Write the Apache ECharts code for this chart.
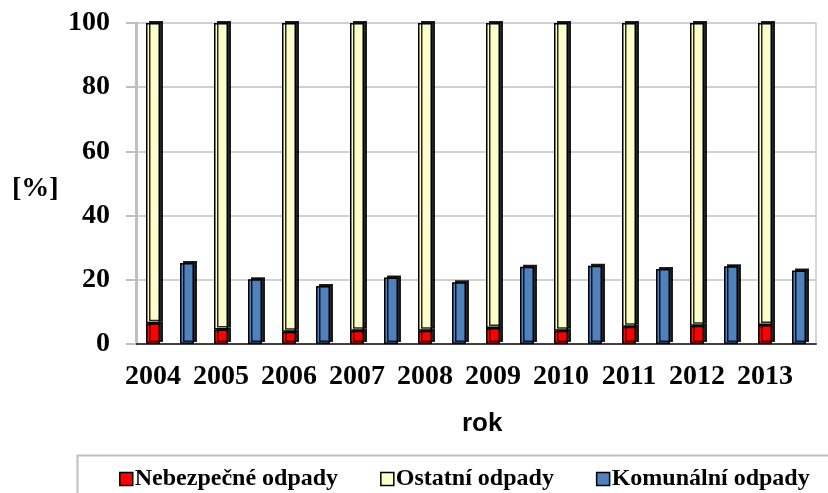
<!DOCTYPE html>
<html>
<head>
<meta charset="utf-8">
<script src="https://cdn.jsdelivr.net/npm/echarts@6/dist/echarts.min.js"></script>
<style>
  html, body { margin: 0; padding: 0; background: #fff; }
  #main { width: 828px; height: 493px; }
</style>
</head>
<body>
<div id="main"></div>
<script>
// hodnoty
const years = ['2004', '2005', '2006', '2007', '2008', '2009', '2010', '2011', '2012', '2013']
const nebezpecne = [6.5, 4.5, 3.8, 4.1, 4.1, 5.0, 4.1, 5.4, 5.7, 5.9]
const ostatni = [93.5, 95.5, 96.2, 95.9, 95.9, 95.0, 95.9, 94.6, 94.3, 94.1]
const komunalni = [25.2, 20.2, 18.1, 20.7, 19.2, 24.1, 24.4, 23.4, 24.2, 22.9]
const yTicks = [0, 20, 40, 60, 80, 100]

const serif = '"Liberation Serif", "Times New Roman", serif'

// kazdy rok = dva sloty: sloupec nebezpecne+ostatni, vedle komunalni
const cats = []
const redData = [], yellowData = [], blueData = []
years.forEach((y, i) => {
  cats.push(y, y + 'k')
  redData.push(nebezpecne[i], '-')
  yellowData.push(ostatni[i], '-')
  blueData.push('-', komunalni[i])
})

const barStyle = (color) => ({
  color: color,
  borderColor: '#000',
  borderWidth: 1.5,
  shadowColor: 'rgba(0,0,0,0.85)',
  shadowBlur: 0,
  shadowOffsetX: 3,
  shadowOffsetY: -2
})

const chart = echarts.init(document.getElementById('main'))
chart.setOption({
  animation: false,
  grid: { left: 136, right: 12, top: 23, bottom: 149 },
  xAxis: {
    type: 'category',
    data: cats,
    axisLine: { lineStyle: { color: '#404040', width: 2 } },
    axisTick: { interval: 0, length: 6, lineStyle: { color: '#bfbfbf', width: 2 } },
    axisLabel: {
      interval: 0,
      margin: 19,
      fontFamily: serif,
      fontWeight: 'bold',
      fontSize: 28,
      color: '#000',
      formatter: (v, idx) => idx % 2 ? '' : v
    }
  },
  yAxis: [{
    type: 'value',
    min: yTicks[0],
    max: yTicks[yTicks.length - 1],
    interval: 20,
    axisLine: { show: true, lineStyle: { color: '#bfbfbf', width: 3 } },
    axisTick: { show: true, length: 10, lineStyle: { color: '#bfbfbf', width: 2 } },
    axisLabel: { margin: 26, fontFamily: serif, fontWeight: 'bold', fontSize: 28, color: '#000' },
    splitLine: { lineStyle: { color: '#c0c0c0', width: 1.5 } }
  }, {
    type: 'value',
    position: 'right',
    min: 0,
    max: 100,
    interval: 20,
    axisLine: { show: true, lineStyle: { color: '#c8c8c8', width: 1.5 } },
    axisTick: { show: false },
    axisLabel: { show: false },
    splitLine: { show: false }
  }],
  legend: {
    left: 114,
    top: 462,
    itemWidth: 13,
    itemHeight: 13,
    itemGap: 42,
    icon: 'rect',
    itemStyle: { borderColor: '#000', borderWidth: 1.5, shadowColor: 'transparent', shadowOffsetX: 0, shadowOffsetY: 0 },
    textStyle: { fontFamily: serif, fontWeight: 'bold', fontSize: 24, color: '#000', padding: [0, 0, 0, -3] },
    data: ['Nebezpečné odpady', 'Ostatní odpady', 'Komunální odpady']
  },
  graphic: [
    {
      type: 'rect',
      left: 75, top: 453,
      shape: { width: 770, height: 60 },
      style: { fill: 'none', stroke: '#bfbfbf', lineWidth: 2 },
      silent: true
    },
    {
      type: 'text',
      left: 12, top: 175,
      style: { text: '[%]', font: 'bold 28px ' + serif, fill: '#000' }
    },
    {
      type: 'text',
      left: 462, top: 411,
      style: { text: 'rok', font: 'bold 26px "Liberation Sans", Arial, sans-serif', fill: '#000' }
    }
  ],
  series: [
    { name: 'Nebezpečné odpady', type: 'bar', stack: 'a', barWidth: 14, data: redData, itemStyle: barStyle('#ff0000') },
    { name: 'Ostatní odpady', type: 'bar', stack: 'a', barWidth: 14, data: yellowData, itemStyle: barStyle('#ffffcc') },
    { name: 'Komunální odpady', type: 'bar', stack: 'a', barWidth: 14, data: blueData, itemStyle: barStyle('#4f81bd') }
  ]
})
</script>
</body>
</html>
